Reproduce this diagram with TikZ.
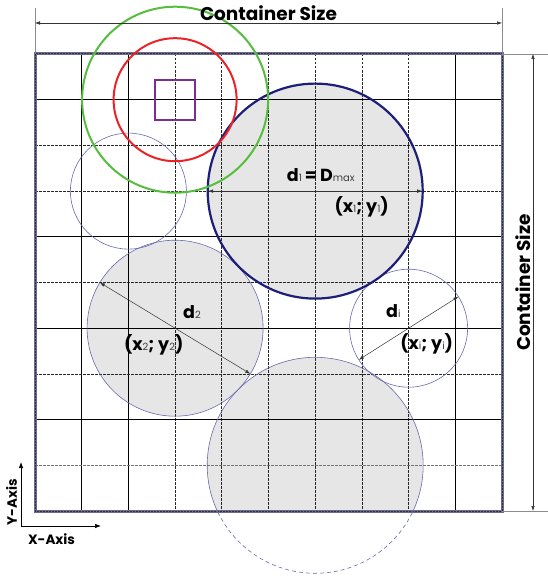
\documentclass[tikz,border=0pt]{standalone}
\usepackage{fontspec}
\setmainfont{Poppins}
\usetikzlibrary{arrows.meta}
\begin{document}
\definecolor{cfill}{RGB}{230,230,230}
\definecolor{navyc}{RGB}{30,30,120}
\definecolor{thinc}{RGB}{105,105,175}
\definecolor{greenc}{RGB}{85,190,60}
\definecolor{redc}{RGB}{235,35,40}
\definecolor{purpc}{RGB}{125,45,145}
\definecolor{borderc}{RGB}{105,105,145}
\newcommand{\lsub}[1]{{\fontsize{10}{10}\selectfont\mdseries\color{black!75}#1}}
\tikzset{
  solidg/.style={black, line width=0.7pt},
  dashg/.style={black!85, line width=0.7pt, dash pattern=on 2.5pt off 1.5pt},
  thincirc/.style={thinc, line width=0.6pt},
  dimline/.style={black!80, line width=0.5pt},
  extline/.style={black!45, line width=0.5pt},
  dimarrow/.style={dimline, {Latex[length=5pt,width=3.5pt]}-{Latex[length=5pt,width=3.5pt]}},
  axarrow/.style={black, line width=0.7pt, -{Latex[length=6pt,width=4.5pt]}},
  lbl/.style={font=\fontsize{17.5}{18}\selectfont\bfseries, inner sep=0pt, anchor=base},
  biglbl/.style={font=\fontsize{18.5}{19}\selectfont\bfseries, inner sep=0pt},
  axlbl/.style={font=\fontsize{13.5}{14}\selectfont\bfseries, inner sep=0pt}
}
\begin{tikzpicture}[x=1pt, y=-1pt]
\useasboundingbox (0,0) rectangle (548,578);
% fills
\fill[cfill] (315.2,191.1) circle (107.5);
\fill[cfill] (175.1,328.2) circle (88);
\begin{scope}
  \clip (35,54) rectangle (502,511);
  \fill[cfill] (315.2,465.3) circle (108);
\end{scope}
% grid
\foreach \x in {81.7,128.4,455.3} \draw[solidg] (\x,54) -- (\x,511);
\foreach \x in {175.1,221.8,268.5,315.2,361.9,408.6} \draw[dashg] (\x,54) -- (\x,511);
\foreach \y in {99.7,236.8,328.2,419.6} \draw[solidg] (35,\y) -- (502,\y);
\foreach \y in {145.4,191.1,282.5,373.9} \draw[dashg] (35,\y) -- (502,\y);
\draw[dashg, black!55] (35,465.3) -- (502,465.3);
% container border
\draw[borderc, line width=3pt] (35,54) rectangle (502,511);
\draw[black!80, line width=1pt, dash pattern=on 2pt off 1pt] (35,54) rectangle (502,511);
% circles
\draw[thincirc] (128.4,191.1) circle (58);
\draw[thincirc] (175.1,328.2) circle (88);
\draw[thincirc] (408.6,328.2) circle (59);
\begin{scope}
  \clip (0,0) rectangle (548,511);
  \draw[thincirc] (315.2,465.3) circle (108);
\end{scope}
\begin{scope}
  \clip (0,511) rectangle (548,578);
  \draw[thincirc, dash pattern=on 4pt off 3pt] (315.2,465.3) circle (108);
\end{scope}
\draw[navyc, line width=2.2pt] (315.2,191.1) circle (107.5);
\draw[greenc, line width=2pt] (175.1,99.7) circle (93);
\draw[redc, line width=2pt] (175.1,99.7) circle (61.5);
\draw[purpc, line width=2pt] (155.1,79.7) rectangle (195.1,119.7);
% diameter arrows
\coordinate (d1a) at (208.2,191.1);
\coordinate (d1b) at (422.2,191.1);
\coordinate (d2a) at (99.9,282.6);
\coordinate (d2b) at (250.3,373.8);
\coordinate (dia) at (458.4,296.6);
\coordinate (dib) at (358.8,359.8);
\draw[dimarrow] (d1a) -- (d1b);
\draw[dimarrow] (d2a) -- (d2b);
\draw[dimarrow] (dia) -- (dib);
% labels
\node[lbl] (l1) at (320.8,181.5) {d\lsub{1}\,=\,D\lsub{max}};
\node[lbl] (p1) at (361.7,212.5) {(x\lsub{1}; y\lsub{1})};
\node[lbl] (l2) at (192,318.3) {d\lsub{2}};
\node[lbl] (p2) at (153.7,350) {(x\lsub{2}; y\lsub{2})};
\node[lbl] (li) at (393.3,317.7) {d\lsub{i}};
\node[lbl] (pi) at (426.7,349.3) {(x\lsub{i}; y\lsub{i})};
% dimension lines
\coordinate (tl) at (35,23);
\coordinate (tr) at (502,23);
\coordinate (rt) at (533,54);
\coordinate (rb) at (533,511);
\draw[extline] (35,8) -- (35,54);
\draw[extline] (502,8) -- (502,54);
\draw[extline] (502,54) -- (548,54);
\draw[extline] (502,511) -- (548,511);
\draw[dimarrow] (tl) -- (tr);
\draw[dimarrow] (rt) -- (rb);
\node[biglbl] (ct) at (268.5,13) {Container Size};
\node[biglbl, rotate=90] (cr) at (523.5,282.5) {Container Size};
% axes
\coordinate (o) at (21,526);
\coordinate (yax) at (21,462);
\coordinate (xax) at (101,526);
\draw[axarrow] (o) -- (yax);
\draw[axarrow] (o) -- (xax);
\node[axlbl, rotate=90] (ya) at (11.5,502) {Y-Axis};
\node[axlbl] (xa) at (51.5,539.5) {X-Axis};
\end{tikzpicture}
\end{document}
